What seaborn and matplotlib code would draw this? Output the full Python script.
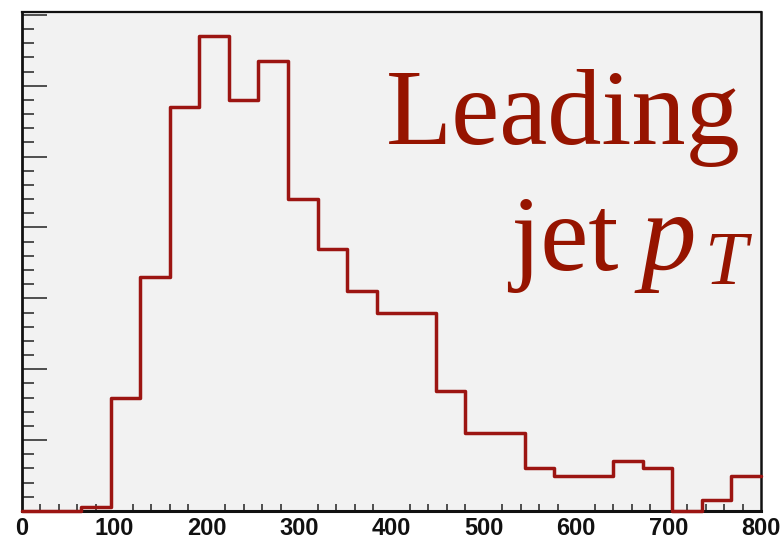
import numpy as np
import pandas as pd
import matplotlib
matplotlib.use("Agg")
import matplotlib.pyplot as plt
from matplotlib.ticker import MultipleLocator, NullFormatter
import seaborn as sns

# Leading-jet transverse momentum histogram (32 GeV bins from 0 to 800)
bin_edges = list(range(0, 801, 32))
counts = [0, 0, 1, 32, 66, 114, 134, 116, 127, 88, 74, 62, 56, 56,
          34, 22, 22, 12, 10, 10, 14, 12, 0, 3, 10]
x_ticks = [0, 100, 200, 300, 400, 500, 600, 700, 800]

centers = [(a + b) / 2 for a, b in zip(bin_edges[:-1], bin_edges[1:])]
df = pd.DataFrame({"pt": centers, "n": counts})

sns.set_theme(style="white")

W, H = 782, 537
fig = plt.figure(figsize=(W / 100, H / 100), dpi=100, facecolor="white")
ax = fig.add_axes([22 / W, 1 - 511 / H, (761 - 22) / W, (511 - 12) / H])
ax.set_facecolor("#f2f2f2")

sns.histplot(data=df, x="pt", weights="n", bins=bin_edges, element="step",
             fill=False, color="#9c1512", linewidth=2.5, ax=ax)
# keep empty bins visible along the frame's lower edge
for ln in ax.lines:
    ln.set_clip_on(False)
    ln.set_zorder(3)

ax.set_xlim(0, 800)
ax.set_ylim(0, 140.8)
ax.set_xlabel("")
ax.set_ylabel("")

ax.set_xticks(x_ticks)
ax.xaxis.set_minor_locator(MultipleLocator(20))
ax.yaxis.set_major_locator(MultipleLocator(20))
ax.yaxis.set_minor_locator(MultipleLocator(4))
ax.yaxis.set_major_formatter(NullFormatter())

ax.tick_params(axis="x", which="major", direction="in", length=9.4, width=1.1,
               color="#222222", pad=4.5, labelsize=17)
ax.tick_params(axis="x", which="minor", direction="in", length=4.7, width=1.1,
               color="#222222", bottom=True)
ax.tick_params(axis="y", which="major", direction="in", length=18, width=1.1,
               color="#222222", left=True)
ax.tick_params(axis="y", which="minor", direction="in", length=8.6, width=1.1,
               color="#222222", left=True)
for lab in ax.get_xticklabels():
    lab.set_fontfamily("Liberation Sans")
    lab.set_fontweight("bold")
    lab.set_color("#111111")

for side, lw in [("left", 2.0), ("bottom", 2.2), ("top", 1.6), ("right", 1.8)]:
    ax.spines[side].set_visible(True)
    ax.spines[side].set_color("#111111")
    ax.spines[side].set_linewidth(lw)

text_color = "#961400"
serif = "Liberation Serif"
fig.text(741 / W, 1 - 143.5 / H, "Leading", ha="right", va="baseline",
         fontsize=78, family=serif, color=text_color)
fig.text(510 / W, 1 - 270 / H, "jet", ha="left", va="baseline",
         fontsize=78, family=serif, color=text_color)
fig.text(641 / W, 1 - 270 / H, "p", ha="left", va="baseline",
         fontsize=80, family=serif, style="italic", color=text_color)
fig.text(748 / W, 1 - 283.5 / H, "T", ha="right", va="baseline",
         fontsize=55, family=serif, style="italic", color=text_color)

fig.savefig("out.png", dpi=100, facecolor="white")
